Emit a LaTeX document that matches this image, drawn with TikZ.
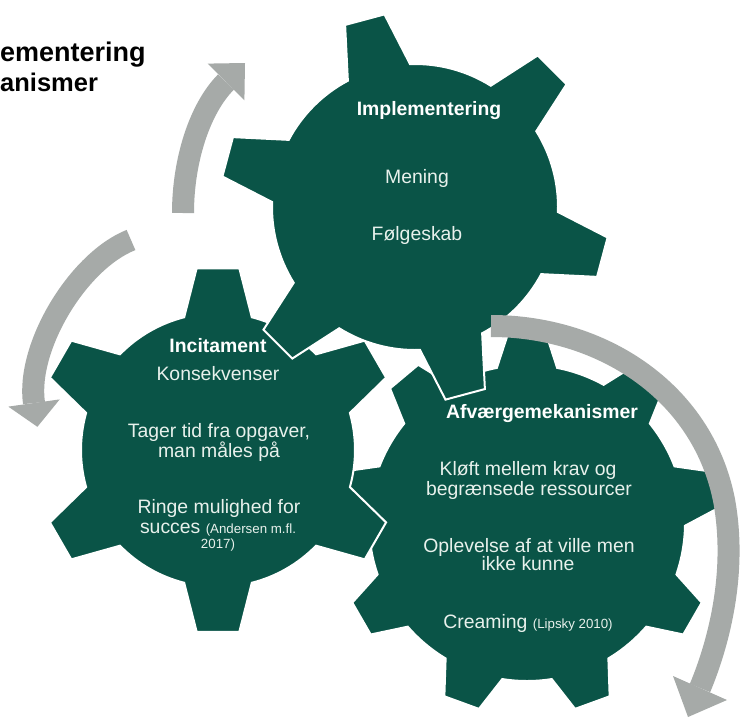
\documentclass[tikz,border=0pt]{standalone}
\usepackage{fontspec}
\setmainfont{Liberation Sans}
\definecolor{gg}{RGB}{10,84,71}
\definecolor{ag}{RGB}{166,170,168}
\definecolor{tx}{RGB}{232,241,236}
\newcommand{\drawgear}[8]{% cx, cy, r, R, n, offset, base half, tip half
  \begin{scope}[shift={(#1,#2)}]
    \filldraw[gearsty] ({#6-#7}:#3)
      \foreach \k in {1,...,#5}{
        -- ({#6+(\k-1)*360/#5-#8}:#4)
        -- ({#6+(\k-1)*360/#5+#8}:#4)
        -- ({#6+(\k-1)*360/#5+#7}:#3)
        arc[start angle={#6+(\k-1)*360/#5+#7}, end angle={#6+\k*360/#5-#7}, radius=#3]
      } -- cycle;
  \end{scope}}
\begin{document}
\begin{tikzpicture}[x=1pt,y=1pt,
  gearsty/.style={fill=gg, draw=white, line width=2pt, line join=miter},
  band/.style={draw=ag, line width=22pt, line cap=butt},
  headsty/.style={fill=ag, draw=none},
  big/.style={font=\fontsize{19.4}{22}\selectfont, text=tx, inner sep=0pt, anchor=base},
  bighead/.style={font=\bfseries\fontsize{19.4}{22}\selectfont, text=white, inner sep=0pt, anchor=base},
  titlesty/.style={font=\bfseries\fontsize{27}{30}\selectfont, text=black, inner sep=0pt, anchor=base west}]
\useasboundingbox[fill=white] (0,0) rectangle (746,-717);

% title
\node[titlesty] (t1) at (0,-62) {ementering};
\node[titlesty, font=\bfseries\fontsize{25.5}{30}\selectfont] (t2) at (0,-91) {anismer};

% arrows
\coordinate (aA0) at (183,-213);
\coordinate (aA1) at (226,-82);
\draw[band] (aA0) .. controls (183,-160) and (200,-108) .. (aA1);
\fill[headsty] (207.6,-63.6) -- (245,-63) -- (244.4,-100.4) -- cycle;

\coordinate (aB0) at (131,-240);
\coordinate (aB1) at (34,-403);
\draw[band] (aB0) .. controls (78,-261) and (26,-347) .. (aB1);
\fill[headsty] (8.3,-406.6) -- (37.4,-426.8) -- (59.7,-399.4) -- cycle;

% gears: bottom-right, left, top
\drawgear{527}{-523}{158}{192}{9}{90}{11}{5.5}
\drawgear{218}{-450}{137}{183}{6}{90}{14.3}{6.7}
\drawgear{415}{-207}{143}{195}{6}{105}{13}{6}

\coordinate (aC0) at (491,-326);
\coordinate (aCm) at (724,-500);
\coordinate (aC1) at (700,-688);
\draw[band] (aC0) .. controls (600,-326) and (702,-390) .. (aCm)
               .. controls (737,-570) and (720,-640) .. (aC1);
\fill[headsty] (673,-676) -- (688,-717) -- (727,-700) -- cycle;

% gear 1 text
\node[bighead] (g1h) at (429,-115) {Implementering};
\node[big] (g1a) at (417,-183) {Mening};
\node[big] (g1b) at (417,-240) {Følgeskab};

% gear 2 text
\node[bighead] (g2h) at (218,-352) {Incitament};
\node[big] (g2a) at (218,-380) {Konsekvenser};
\node[big] (g2b) at (219,-437) {Tager tid fra opgaver,};
\node[big] (g2c) at (219,-457) {man måles på};
\node[big] (g2d) at (219,-513) {Ringe mulighed for};
\node[big] (g2e) at (218,-533) {succes {\fontsize{13.3}{15}\selectfont (Andersen m.fl.}};
\node[big, font=\fontsize{13.3}{15}\selectfont] (g2f) at (218,-548) {2017)};

% gear 3 text
\node[bighead] (g3h) at (542,-418) {Afværgemekanismer};
\node[big] (g3a) at (528,-475) {Kløft mellem krav og};
\node[big] (g3b) at (529,-495) {begrænsede ressourcer};
\node[big] (g3c) at (529,-552) {Oplevelse af at ville men};
\node[big] (g3d) at (528,-570) {ikke kunne};
\node[big] (g3e) at (528,-628) {Creaming {\fontsize{13.3}{15}\selectfont (Lipsky 2010)}};
\end{tikzpicture}
\end{document}
